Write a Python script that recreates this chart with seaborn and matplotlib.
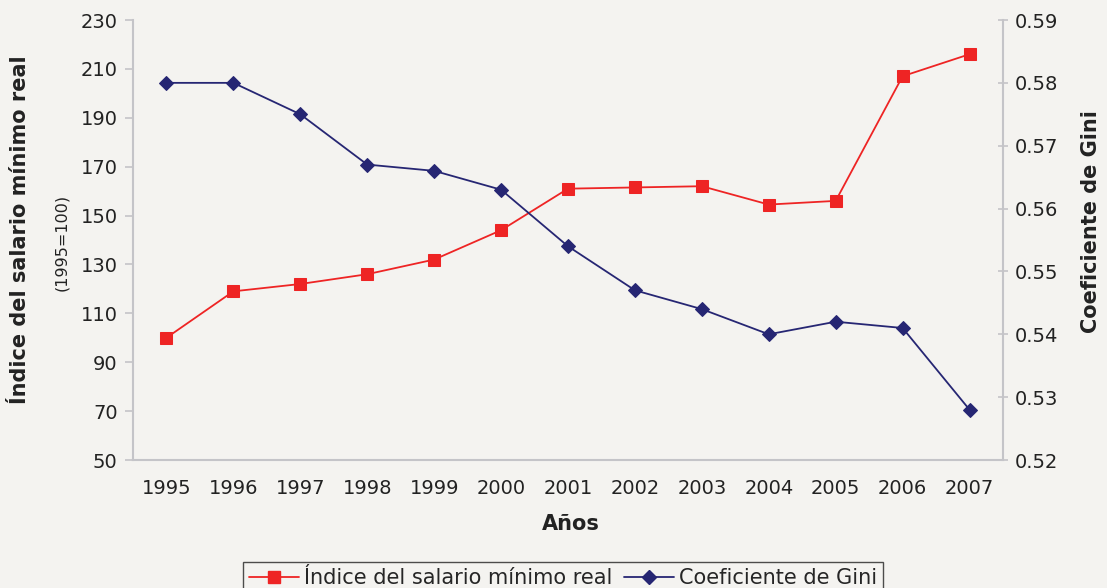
import numpy as np
import pandas as pd
import matplotlib
matplotlib.use("Agg")
import matplotlib.pyplot as plt
import seaborn as sns
from matplotlib.lines import Line2D

years = ["1995", "1996", "1997", "1998", "1999", "2000", "2001",
         "2002", "2003", "2004", "2005", "2006", "2007"]
salario = [100, 119, 122, 126, 132, 144, 161, 161.5, 162, 154.5, 156, 207, 216]
gini = [0.580, 0.580, 0.575, 0.567, 0.566, 0.563, 0.554,
        0.547, 0.544, 0.540, 0.542, 0.541, 0.528]

bg = "#f4f3f0"
axis_col = "#c4c4c8"
red = "#ee2424"
blue = "#262673"
txt = "#222222"

sns.set_theme(style="white")
plt.rcParams["font.family"] = ["DejaVu Sans"]

df = pd.DataFrame({"pos": np.arange(len(years)), "salario": salario, "gini": gini})

fig = plt.figure(figsize=(11.07, 5.88), dpi=100, facecolor=bg)
ax = fig.add_axes([133 / 1107, 1 - 460 / 588, 870 / 1107, 440 / 588])
ax.set_facecolor(bg)
ax2 = ax.twinx()

sns.lineplot(data=df, x="pos", y="salario", ax=ax, color=red, marker="s",
             markersize=9, markeredgecolor=red, linewidth=1.3)
sns.lineplot(data=df, x="pos", y="gini", ax=ax2, color=blue, marker="D",
             markersize=7, markeredgecolor=blue, linewidth=1.3)

ax.set_xlim(-0.5, len(years) - 0.5)
ax.set_ylim(50, 230)
ax.set_yticks(np.arange(50, 231, 20))
ax2.set_ylim(0.52, 0.59)
ax2.set_yticks(np.arange(0.52, 0.5901, 0.01))
ax2.set_yticklabels([f"{v:.2f}" for v in np.arange(0.52, 0.5901, 0.01)])

# category axis: tick marks at boundaries, labels at centers
ax.set_xticks(np.arange(-0.5, len(years), 1))
ax.set_xticklabels([])
ax.set_xticks(np.arange(len(years)), minor=True)
ax.set_xticklabels(years, minor=True)
ax.tick_params(axis="x", which="major", length=7, width=1.2, color=axis_col, direction="inout")
ax.tick_params(axis="x", which="minor", length=0, pad=14, labelsize=14, labelcolor=txt)
ax.tick_params(axis="y", length=6, width=1.2, color=axis_col, direction="out", labelsize=14,
               labelcolor=txt, pad=5)
ax2.tick_params(axis="y", length=7, width=1.2, color=axis_col, direction="inout", labelsize=14,
                labelcolor=txt, pad=5)

for a in (ax, ax2):
    for s in a.spines.values():
        s.set_visible(False)
    a.set_xlabel("")
    a.set_ylabel("")
ax.spines["left"].set_visible(True)
ax.spines["bottom"].set_visible(True)
ax2.spines["right"].set_visible(True)
for s in (ax.spines["left"], ax.spines["bottom"], ax2.spines["right"]):
    s.set_color(axis_col)
    s.set_linewidth(1.5)

fig.text(571 / 1107, 1 - 524 / 588, "Años", ha="center", va="center",
         fontsize=15, fontweight="bold", color=txt)
fig.text(20 / 1107, 1 - 230 / 588, "Índice del salario mínimo real", rotation=90,
         ha="center", va="center", fontsize=15, fontweight="bold", color=txt)
fig.text(62 / 1107, 1 - 242 / 588, "(1995=100)", rotation=90,
         ha="center", va="center", fontsize=11.5, color=txt)
fig.text(1091 / 1107, 1 - 222 / 588, "Coeficiente de Gini", rotation=90,
         ha="center", va="center", fontsize=15, fontweight="bold", color=txt)

handles = [Line2D([], [], color=red, marker="s", markersize=9, linewidth=1.3),
           Line2D([], [], color=blue, marker="D", markersize=7, linewidth=1.3)]
leg = fig.legend(handles, ["Índice del salario mínimo real", "Coeficiente de Gini"],
                 loc="center", bbox_to_anchor=(563 / 1107, 1 - 578 / 588), ncol=2,
                 frameon=True, fancybox=False, fontsize=15, handlelength=2.4,
                 handletextpad=0.2, columnspacing=0.6, borderpad=0.3)
leg.get_frame().set_edgecolor(txt)
leg.get_frame().set_facecolor(bg)
leg.get_frame().set_linewidth(1.0)

fig.savefig("out.png", dpi=100, facecolor=bg)
